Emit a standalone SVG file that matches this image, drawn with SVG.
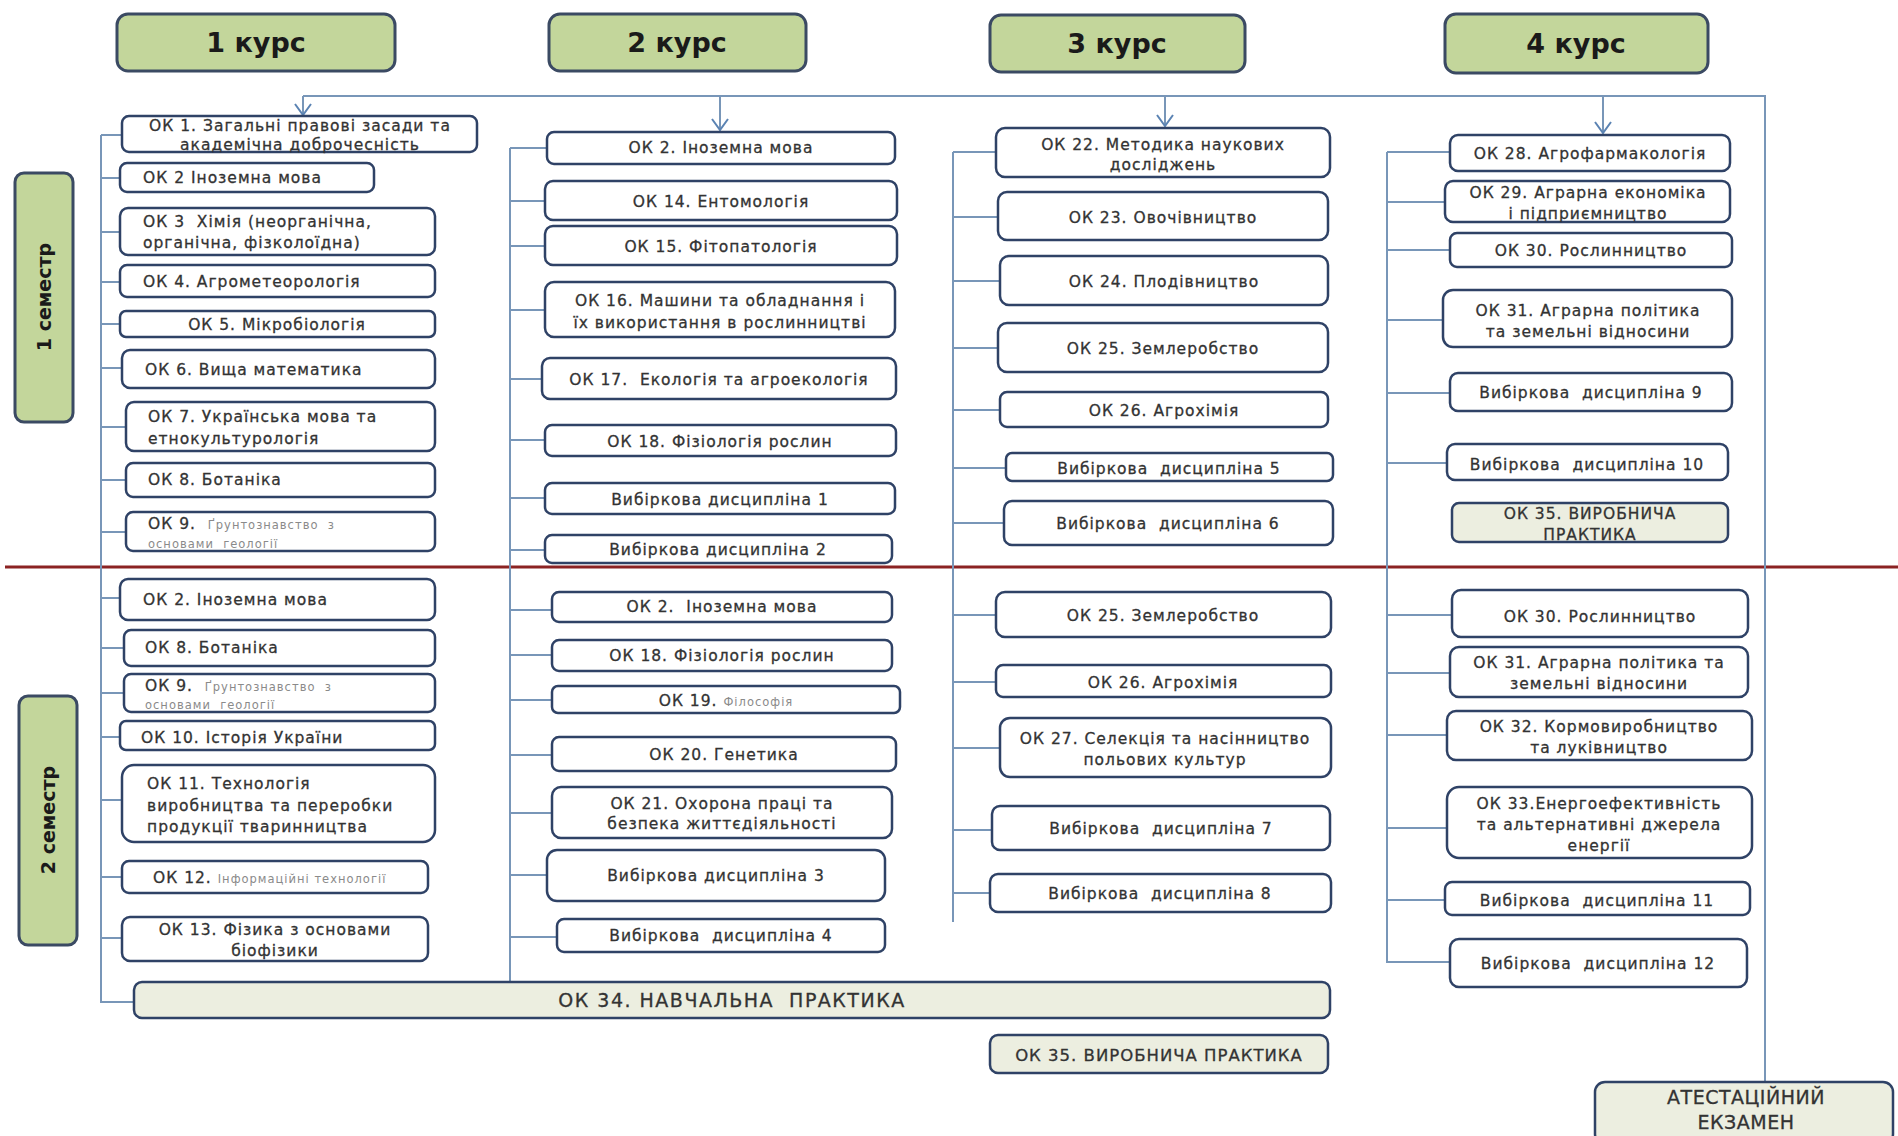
<svg xmlns="http://www.w3.org/2000/svg" width="1898" height="1136" viewBox="0 0 1898 1136">
<style>
.bg{fill:#ffffff}
.hdr rect{fill:#c3d69b;stroke:#3b4a63;stroke-width:3}
.hdr text{font-family:"DejaVu Sans",sans-serif;font-weight:bold;font-size:27px;fill:#1a1a1a;text-anchor:middle}
.sem rect{fill:#c3d69b;stroke:#3b4a63;stroke-width:3}
.sem text{font-family:"DejaVu Sans",sans-serif;font-weight:bold;font-size:19px;fill:#1a1a1a;text-anchor:middle}
.n rect{fill:#ffffff;stroke:#2f4266;stroke-width:2.5}
.p rect{fill:#eceee0;stroke:#2f4266;stroke-width:2.5}
.n text,.p text{font-family:"DejaVu Sans",sans-serif;font-size:15.5px;fill:#333333;stroke:#333333;stroke-width:0.3px;text-anchor:middle;letter-spacing:1px;white-space:pre}
.n text.l{text-anchor:start}
.n .sm{font-size:11.5px;fill:#8a8a8a;stroke:none;letter-spacing:1px}
.p .big{font-size:19px;letter-spacing:1.5px}
.p .mid{font-size:16.5px}
.p .ex{font-size:19px;letter-spacing:0.5px}
.cn{stroke:#7896b8;stroke-width:2;fill:none}
.red{stroke:#8b2323;stroke-width:3}
</style>
<defs>
<marker id="ar" markerUnits="userSpaceOnUse" markerWidth="14" markerHeight="18" refX="12" refY="9" orient="auto" viewBox="0 0 14 18">
<path d="M1,1 L12,9 L1,17" fill="none" stroke="#5b83b3" stroke-width="2"/>
</marker>
</defs>
<rect class="bg" x="0" y="0" width="1898" height="1136"/>

<line class="red" x1="5" y1="567" x2="1898" y2="567"/>

<g id="connectors">
<path class="cn" d="M303,96 H1765 V1082"/>
<line class="cn" x1="303" y1="96" x2="303" y2="115" marker-end="url(#ar)"/>
<line class="cn" x1="720" y1="96" x2="720" y2="130" marker-end="url(#ar)"/>
<line class="cn" x1="1165" y1="96" x2="1165" y2="126" marker-end="url(#ar)"/>
<line class="cn" x1="1603" y1="96" x2="1603" y2="133" marker-end="url(#ar)"/>
<path class="cn" d="M101,135 V1002 H134 M101,135 H122 M101,178 H120 M101,232 H120 M101,282 H120 M101,324 H120 M101,368 H122 M101,427 H126 M101,480 H126 M101,532 H126 M101,598 H120 M101,648 H124 M101,693 H124 M101,737 H120 M101,800 H122 M101,877 H122 M101,938 H122"/>
<path class="cn" d="M510,148 V982 M510,148 H547 M510,201 H545 M510,246 H545 M510,310 H545 M510,379 H542 M510,440 H545 M510,498 H545 M510,550 H545 M510,610 H552 M510,655 H552 M510,700 H552 M510,755 H552 M510,813 H552 M510,875 H547 M510,937 H557"/>
<path class="cn" d="M953,152 V922 M953,152 H996 M953,217 H998 M953,281 H1000 M953,348 H998 M953,410 H1000 M953,468 H1006 M953,523 H1004 M953,615 H996 M953,682 H996 M953,748 H1000 M953,830 H992 M953,893 H990"/>
<path class="cn" d="M1387,152 V962 H1450 M1387,152 H1450 M1387,202 H1445 M1387,250 H1450 M1387,320 H1443 M1387,393 H1450 M1387,463 H1447 M1387,615 H1452 M1387,673 H1450 M1387,735 H1447 M1387,828 H1447 M1387,900 H1445"/>
</g>

<g id="h1" class="hdr"><rect x="117" y="14" width="278" height="57" rx="11"/><text x="256" y="52">1 курс</text></g>
<g id="h2" class="hdr"><rect x="549" y="14" width="257" height="57" rx="11"/><text x="677" y="52">2 курс</text></g>
<g id="h3" class="hdr"><rect x="990" y="15" width="255" height="57" rx="11"/><text x="1117" y="53">3 курс</text></g>
<g id="h4" class="hdr"><rect x="1445" y="14" width="263" height="59" rx="11"/><text x="1576" y="53">4 курс</text></g>

<g id="sem1" class="sem"><rect x="15" y="173" width="58" height="249" rx="9"/><text transform="translate(51,297) rotate(-90)">1 семестр</text></g>
<g id="sem2" class="sem"><rect x="19" y="696" width="58" height="249" rx="9"/><text transform="translate(55,820) rotate(-90)">2 семестр</text></g>

<!-- column 1, semester 1 -->
<g id="c1s1ok1" class="n"><rect x="122" y="116" width="355" height="36" rx="7"/><text x="300" y="131">ОК 1. Загальні правові засади та</text><text x="300" y="150">академічна доброчесність</text></g>
<g id="c1s1ok2" class="n"><rect x="120" y="163" width="254" height="29" rx="7"/><text class="l" x="143" y="183">ОК 2 Іноземна мова</text></g>
<g id="c1s1ok3" class="n"><rect x="120" y="208" width="315" height="47" rx="8"/><text class="l" x="143" y="227">ОК 3  Хімія (неорганічна,</text><text class="l" x="143" y="248">органічна, фізколоїдна)</text></g>
<g id="c1s1ok4" class="n"><rect x="120" y="265" width="315" height="32" rx="7"/><text class="l" x="143" y="287">ОК 4. Агрометеорологія</text></g>
<g id="c1s1ok5" class="n"><rect x="120" y="311" width="315" height="26" rx="6"/><text x="277" y="330">ОК 5. Мікробіологія</text></g>
<g id="c1s1ok6" class="n"><rect x="122" y="350" width="313" height="38" rx="8"/><text class="l" x="145" y="375">ОК 6. Вища математика</text></g>
<g id="c1s1ok7" class="n"><rect x="126" y="402" width="309" height="49" rx="8"/><text class="l" x="148" y="422">ОК 7. Українська мова та</text><text class="l" x="148" y="444">етнокультурологія</text></g>
<g id="c1s1ok8" class="n"><rect x="126" y="463" width="309" height="34" rx="7"/><text class="l" x="148" y="485">ОК 8. Ботаніка</text></g>
<g id="c1s1ok9" class="n"><rect x="126" y="512" width="309" height="39" rx="7"/><text class="l" x="148" y="529">ОК 9.  <tspan class="sm">Ґрунтознавство  з</tspan></text><text class="l sm" x="148" y="548">основами  геології</text></g>

<!-- column 1, semester 2 -->
<g id="c1s2ok2" class="n"><rect x="120" y="579" width="315" height="41" rx="8"/><text class="l" x="143" y="605">ОК 2. Іноземна мова</text></g>
<g id="c1s2ok8" class="n"><rect x="124" y="630" width="311" height="36" rx="7"/><text class="l" x="145" y="653">ОК 8. Ботаніка</text></g>
<g id="c1s2ok9" class="n"><rect x="124" y="674" width="311" height="38" rx="7"/><text class="l" x="145" y="691">ОК 9.  <tspan class="sm">Ґрунтознавство  з</tspan></text><text class="l sm" x="145" y="709">основами  геології</text></g>
<g id="c1s2ok10" class="n"><rect x="120" y="721" width="315" height="29" rx="6"/><text class="l" x="141" y="743">ОК 10. Історія України</text></g>
<g id="c1s2ok11" class="n"><rect x="122" y="765" width="313" height="77" rx="12"/><text class="l" x="147" y="789">ОК 11. Технологія</text><text class="l" x="147" y="811">виробництва та переробки</text><text class="l" x="147" y="832">продукції тваринництва</text></g>
<g id="c1s2ok12" class="n"><rect x="122" y="861" width="306" height="32" rx="7"/><text class="l" x="153" y="883">ОК 12. <tspan class="sm">Інформаційні технології</tspan></text></g>
<g id="c1s2ok13" class="n"><rect x="122" y="917" width="306" height="44" rx="8"/><text x="275" y="935">ОК 13. Фізика з основами</text><text x="275" y="956">біофізики</text></g>

<g id="ok34" class="p"><rect x="134" y="982" width="1196" height="36" rx="8"/><text class="big" x="732" y="1007">ОК 34. НАВЧАЛЬНА  ПРАКТИКА</text></g>

<!-- column 2, semester 1 -->
<g id="c2s1ok2" class="n"><rect x="547" y="132" width="348" height="32" rx="7"/><text x="721" y="153">ОК 2. Іноземна мова</text></g>
<g id="c2s1ok14" class="n"><rect x="545" y="181" width="352" height="39" rx="8"/><text x="721" y="207">ОК 14. Ентомологія</text></g>
<g id="c2s1ok15" class="n"><rect x="545" y="226" width="352" height="39" rx="8"/><text x="721" y="252">ОК 15. Фітопатологія</text></g>
<g id="c2s1ok16" class="n"><rect x="545" y="282" width="350" height="55" rx="9"/><text x="720" y="306">ОК 16. Машини та обладнання і</text><text x="720" y="328">їх використання в рослинництві</text></g>
<g id="c2s1ok17" class="n"><rect x="542" y="358" width="354" height="41" rx="8"/><text x="719" y="385">ОК 17.  Екологія та агроекологія</text></g>
<g id="c2s1ok18" class="n"><rect x="545" y="425" width="351" height="31" rx="7"/><text x="720" y="447">ОК 18. Фізіологія рослин</text></g>
<g id="c2s1v1" class="n"><rect x="545" y="483" width="350" height="31" rx="7"/><text x="720" y="505">Вибіркова дисципліна 1</text></g>
<g id="c2s1v2" class="n"><rect x="545" y="535" width="347" height="28" rx="7"/><text x="718" y="555">Вибіркова дисципліна 2</text></g>

<!-- column 2, semester 2 -->
<g id="c2s2ok2" class="n"><rect x="552" y="592" width="340" height="30" rx="7"/><text x="722" y="612">ОК 2.  Іноземна мова</text></g>
<g id="c2s2ok18" class="n"><rect x="552" y="640" width="340" height="31" rx="7"/><text x="722" y="661">ОК 18. Фізіологія рослин</text></g>
<g id="c2s2ok19" class="n"><rect x="552" y="686" width="348" height="27" rx="6"/><text x="726" y="706">ОК 19. <tspan class="sm">Філософія</tspan></text></g>
<g id="c2s2ok20" class="n"><rect x="552" y="737" width="344" height="34" rx="7"/><text x="724" y="760">ОК 20. Генетика</text></g>
<g id="c2s2ok21" class="n"><rect x="552" y="787" width="340" height="51" rx="9"/><text x="722" y="809">ОК 21. Охорона праці та</text><text x="722" y="829">безпека життєдіяльності</text></g>
<g id="c2s2v3" class="n"><rect x="547" y="850" width="338" height="51" rx="10"/><text x="716" y="881">Вибіркова дисципліна 3</text></g>
<g id="c2s2v4" class="n"><rect x="557" y="919" width="328" height="33" rx="7"/><text x="721" y="941">Вибіркова  дисципліна 4</text></g>

<!-- column 3, semester 1 -->
<g id="c3s1ok22" class="n"><rect x="996" y="128" width="334" height="49" rx="9"/><text x="1163" y="150">ОК 22. Методика наукових</text><text x="1163" y="170">досліджень</text></g>
<g id="c3s1ok23" class="n"><rect x="998" y="192" width="330" height="48" rx="9"/><text x="1163" y="223">ОК 23. Овочівництво</text></g>
<g id="c3s1ok24" class="n"><rect x="1000" y="256" width="328" height="49" rx="9"/><text x="1164" y="287">ОК 24. Плодівництво</text></g>
<g id="c3s1ok25" class="n"><rect x="998" y="323" width="330" height="49" rx="9"/><text x="1163" y="354">ОК 25. Землеробство</text></g>
<g id="c3s1ok26" class="n"><rect x="1000" y="392" width="328" height="35" rx="7"/><text x="1164" y="416">ОК 26. Агрохімія</text></g>
<g id="c3s1v5" class="n"><rect x="1006" y="453" width="327" height="28" rx="6"/><text x="1169" y="474">Вибіркова  дисципліна 5</text></g>
<g id="c3s1v6" class="n"><rect x="1004" y="501" width="329" height="44" rx="8"/><text x="1168" y="529">Вибіркова  дисципліна 6</text></g>

<!-- column 3, semester 2 -->
<g id="c3s2ok25" class="n"><rect x="996" y="592" width="335" height="45" rx="9"/><text x="1163" y="621">ОК 25. Землеробство</text></g>
<g id="c3s2ok26" class="n"><rect x="996" y="665" width="335" height="32" rx="7"/><text x="1163" y="688">ОК 26. Агрохімія</text></g>
<g id="c3s2ok27" class="n"><rect x="1000" y="718" width="331" height="59" rx="10"/><text x="1165" y="744">ОК 27. Селекція та насінництво</text><text x="1165" y="765">польових культур</text></g>
<g id="c3s2v7" class="n"><rect x="992" y="806" width="338" height="44" rx="8"/><text x="1161" y="834">Вибіркова  дисципліна 7</text></g>
<g id="c3s2v8" class="n"><rect x="990" y="874" width="341" height="38" rx="8"/><text x="1160" y="899">Вибіркова  дисципліна 8</text></g>
<g id="ok35b" class="p"><rect x="990" y="1035" width="338" height="38" rx="8"/><text class="mid" x="1159" y="1061">ОК 35. ВИРОБНИЧА ПРАКТИКА</text></g>

<!-- column 4, semester 1 -->
<g id="c4s1ok28" class="n"><rect x="1450" y="135" width="280" height="36" rx="8"/><text x="1590" y="159">ОК 28. Агрофармакологія</text></g>
<g id="c4s1ok29" class="n"><rect x="1445" y="181" width="285" height="41" rx="8"/><text x="1588" y="198">ОК 29. Аграрна економіка</text><text x="1588" y="219">і підприємництво</text></g>
<g id="c4s1ok30" class="n"><rect x="1450" y="233" width="282" height="34" rx="7"/><text x="1591" y="256">ОК 30. Рослинництво</text></g>
<g id="c4s1ok31" class="n"><rect x="1443" y="290" width="289" height="57" rx="10"/><text x="1588" y="316">ОК 31. Аграрна політика</text><text x="1588" y="337">та земельні відносини</text></g>
<g id="c4s1v9" class="n"><rect x="1450" y="373" width="282" height="38" rx="8"/><text x="1591" y="398">Вибіркова  дисципліна 9</text></g>
<g id="c4s1v10" class="n"><rect x="1447" y="444" width="281" height="36" rx="8"/><text x="1587" y="470">Вибіркова  дисципліна 10</text></g>
<g id="ok35a" class="p"><rect x="1452" y="503" width="276" height="39" rx="7"/><text x="1590" y="519">ОК 35. ВИРОБНИЧА</text><text x="1590" y="540">ПРАКТИКА</text></g>

<!-- column 4, semester 2 -->
<g id="c4s2ok30" class="n"><rect x="1452" y="590" width="296" height="47" rx="9"/><text x="1600" y="622">ОК 30. Рослинництво</text></g>
<g id="c4s2ok31" class="n"><rect x="1450" y="647" width="298" height="50" rx="9"/><text x="1599" y="668">ОК 31. Аграрна політика та</text><text x="1599" y="689">земельні відносини</text></g>
<g id="c4s2ok32" class="n"><rect x="1447" y="711" width="305" height="49" rx="9"/><text x="1599" y="732">ОК 32. Кормовиробництво</text><text x="1599" y="753">та луківництво</text></g>
<g id="c4s2ok33" class="n"><rect x="1447" y="787" width="305" height="71" rx="12"/><text x="1599" y="809">ОК 33.Енергоефективність</text><text x="1599" y="830">та альтернативні джерела</text><text x="1599" y="851">енергії</text></g>
<g id="c4s2v11" class="n"><rect x="1445" y="882" width="305" height="33" rx="7"/><text x="1597" y="906">Вибіркова  дисципліна 11</text></g>
<g id="c4s2v12" class="n"><rect x="1450" y="939" width="297" height="48" rx="9"/><text x="1598" y="969">Вибіркова  дисципліна 12</text></g>

<g id="exam" class="p"><rect x="1595" y="1082" width="298" height="62" rx="10"/><text class="ex" x="1746" y="1104">АТЕСТАЦІЙНИЙ</text><text class="ex" x="1746" y="1129">ЕКЗАМЕН</text></g>
</svg>
